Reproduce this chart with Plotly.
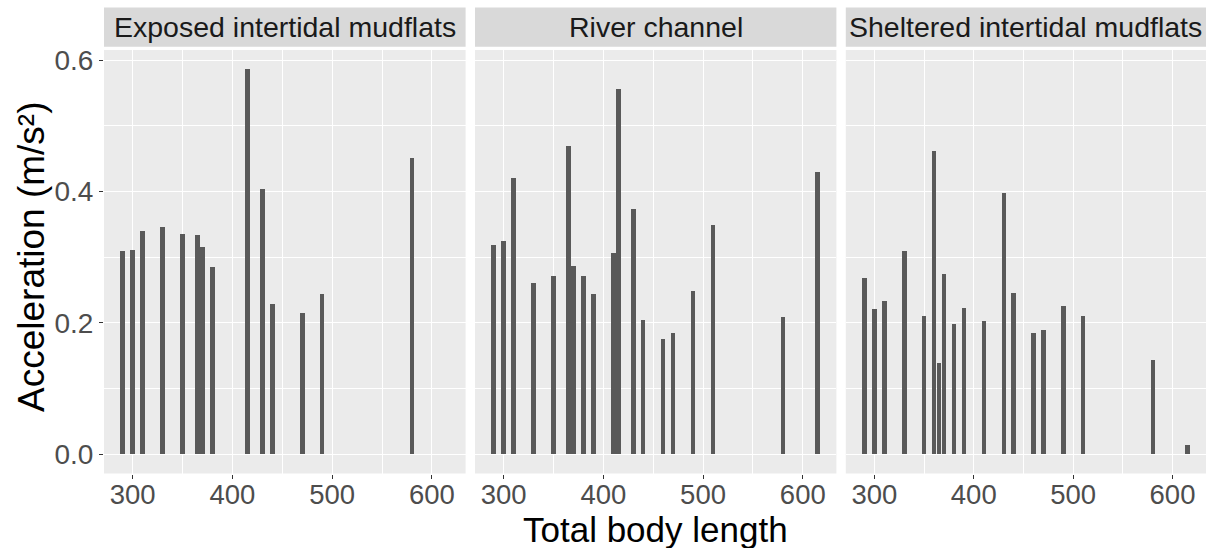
import plotly.graph_objects as go

# ---- data ----
panels = ["Exposed intertidal mudflats", "River channel", "Sheltered intertidal mudflats"]

exposed_x = [290, 300, 310, 330, 350, 365, 370, 380, 415, 430, 440, 470, 490, 580]
exposed_y = [0.309, 0.311, 0.340, 0.346, 0.336, 0.334, 0.316, 0.285, 0.586, 0.403, 0.229, 0.215, 0.244, 0.451]

river_x = [290, 300, 310, 330, 350, 365, 370, 380, 390, 410, 415, 430, 440, 460, 470, 490, 510, 580, 615]
river_y = [0.318, 0.324, 0.420, 0.260, 0.272, 0.469, 0.287, 0.272, 0.244, 0.307, 0.556, 0.374, 0.204, 0.176, 0.184, 0.248, 0.349, 0.209, 0.430]

sheltered_x = [290, 300, 310, 330, 350, 360, 365, 370, 380, 390, 410, 430, 440, 460, 470, 490, 510, 580, 615]
sheltered_y = [0.268, 0.221, 0.233, 0.309, 0.211, 0.461, 0.139, 0.274, 0.199, 0.223, 0.203, 0.397, 0.246, 0.185, 0.189, 0.225, 0.211, 0.143, 0.014]

x_ticks = [300, 400, 500, 600]
y_ticks = [0.0, 0.2, 0.4, 0.6]
y_tick_labels = ["0.0", "0.2", "0.4", "0.6"]

x_title = "Total body length"
y_title = "Acceleration (m/s²)"

# ---- layout geometry (pixels) ----
W, H = 1213, 548
panel_px = [(104, 465.6), (475.0, 836.4), (845.8, 1206.0)]
plot_top, plot_bottom = 50.0, 473.5
strip_top, strip_bottom = 7.5, 46.8

FONT = "Liberation Sans, Arial, Helvetica, sans-serif"
BAR = "#595959"
BAR_W = 4.5

series = [(exposed_x, exposed_y), (river_x, river_y), (sheltered_x, sheltered_y)]
all_x = exposed_x + river_x + sheltered_x
all_y = exposed_y + river_y + sheltered_y
xlo, xhi = min(all_x) - BAR_W / 2, max(all_x) + BAR_W / 2
xpad = (xhi - xlo) * 0.05
x_range = [xlo - xpad, xhi + xpad]
ylo, yhi = 0.0, max(all_y)
ypad = (yhi - ylo) * 0.05
y_range = [ylo - ypad, yhi + ypad]

fig = go.Figure()
ydom = [1 - plot_bottom / H, 1 - plot_top / H]

shapes = []
annotations = []
for i, ((xs, ys), name) in enumerate(zip(series, panels)):
    suffix = "" if i == 0 else str(i + 1)
    fig.add_trace(go.Bar(
        x=xs, y=ys, width=BAR_W,
        marker=dict(color=BAR, line=dict(width=0)),
        xaxis="x" + suffix, yaxis="y" + suffix,
        showlegend=False, hoverinfo="x+y",
    ))
    x0, x1 = panel_px[i]
    xdom = [x0 / W, x1 / W]
    xaxis = dict(
        domain=xdom, range=x_range, anchor="y" + suffix,
        tickmode="array", tickvals=x_ticks, ticktext=[str(v) for v in x_ticks],
        ticks="outside", ticklen=4, tickwidth=1.3, tickcolor="#333333",
        tickfont=dict(family=FONT, size=27.5, color="#4D4D4D"),
        ticklabelstandoff=-8,
        showgrid=True, gridcolor="white", gridwidth=1.4,
        minor=dict(tickmode="array", tickvals=[350, 450, 550], showgrid=True,
                   gridcolor="white", gridwidth=0.7, ticks=""),
        zeroline=False, showline=False, fixedrange=True,
        automargin=False,
    )
    yaxis = dict(
        domain=ydom, range=y_range, anchor="x" + suffix,
        tickmode="array", tickvals=y_ticks, ticktext=y_tick_labels,
        showgrid=True, gridcolor="white", gridwidth=1.4,
        minor=dict(tickmode="array", tickvals=[0.1, 0.3, 0.5], showgrid=True,
                   gridcolor="white", gridwidth=0.7, ticks=""),
        zeroline=False, showline=False, fixedrange=True, automargin=False,
    )
    if i == 0:
        yaxis.update(ticks="outside", ticklen=4, tickwidth=1.3, tickcolor="#333333",
                     tickfont=dict(family=FONT, size=28, color="#4D4D4D"),
                     showticklabels=True)
    else:
        yaxis.update(ticks="", showticklabels=False)
    fig.update_layout(**{"xaxis" + suffix: xaxis, "yaxis" + suffix: yaxis})

    shapes.append(dict(type="rect", xref="paper", yref="paper",
                       x0=x0 / W, x1=x1 / W, y0=1 - strip_bottom / H, y1=1 - strip_top / H,
                       fillcolor="#D9D9D9", line=dict(width=0), layer="below"))
    annotations.append(dict(text=name, xref="paper", yref="paper",
                            x=(x0 + x1) / 2 / W, y=1 - (strip_top + strip_bottom) / 2 / H,
                            xanchor="center", yanchor="middle", showarrow=False,
                            font=dict(family=FONT, size=28.5, color="#1A1A1A")))

annotations.append(dict(text=x_title, xref="paper", yref="paper",
                        x=(panel_px[0][0] + panel_px[2][1]) / 2 / W, y=1 - 529 / H,
                        xanchor="center", yanchor="middle", showarrow=False,
                        font=dict(family=FONT, size=35, color="black")))
annotations.append(dict(text=y_title, xref="paper", yref="paper",
                        x=31 / W, y=1 - 257 / H,
                        xanchor="center", yanchor="middle", showarrow=False, textangle=-90,
                        font=dict(family=FONT, size=37, color="black")))

fig.update_layout(
    width=W, height=H,
    margin=dict(l=0, r=0, t=0, b=0),
    paper_bgcolor="white", plot_bgcolor="#EBEBEB",
    barmode="overlay", bargap=0,
    shapes=shapes, annotations=annotations,
    font=dict(family=FONT),
)

fig.write_html("out.html")
